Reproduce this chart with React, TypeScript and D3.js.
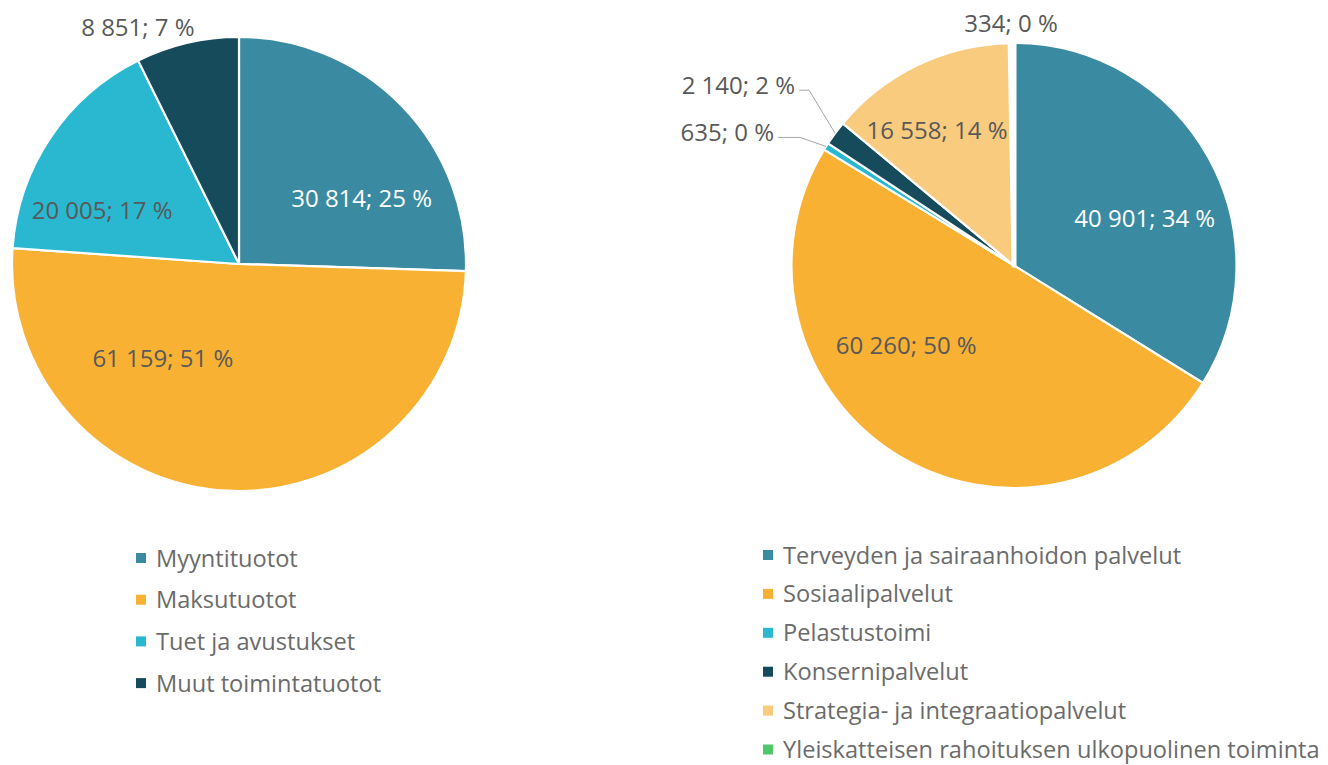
import React from 'react';
import * as d3 from 'd3';

// ---------- DATA ----------
const leftCategories = ['Myyntituotot', 'Maksutuotot', 'Tuet ja avustukset', 'Muut toimintatuotot'];
const leftValues = [30814, 61159, 20005, 8851];
const leftPercents = [25, 51, 17, 7];
const leftColors = ['#3a8ba1', '#f8b133', '#29b8cf', '#164b5c'];

const rightCategories = [
  'Terveyden ja sairaanhoidon palvelut',
  'Sosiaalipalvelut',
  'Pelastustoimi',
  'Konsernipalvelut',
  'Strategia- ja integraatiopalvelut',
  'Yleiskatteisen rahoituksen ulkopuolinen toiminta',
];
const rightValues = [40901, 60260, 635, 2140, 16558, 334];
const rightPercents = [34, 50, 0, 2, 14, 0];
const rightColors = ['#3a8ba1', '#f8b133', '#29b8cf', '#164b5c', '#f8cb7f', '#4fc86b'];

// label placement: mode, angle (deg, clockwise from 12 o'clock), radius fraction
type Place =
  | { mode: 'in'; angle: number; rf: number; fill: string }
  | { mode: 'out'; angle: number; rf: number }
  | { mode: 'leader'; elbow: [number, number]; run: number };

const leftPlaces: Place[] = [
  { mode: 'in', angle: 62, rf: 0.612, fill: '#ffffff' },
  { mode: 'in', angle: 219, rf: 0.533, fill: '#595959' },
  { mode: 'in', angle: 291.5, rf: 0.648, fill: '#595959' },
  { mode: 'out', angle: 336.9, rf: 1.135 },
];
const rightPlaces: Place[] = [
  { mode: 'in', angle: 70.1, rf: 0.625, fill: '#ffffff' },
  { mode: 'in', angle: 233.3, rf: 0.604, fill: '#595959' },
  { mode: 'leader', elbow: [-26, -9], run: 22 },
  { mode: 'leader', elbow: [-26, -43], run: 10 },
  { mode: 'in', angle: 330.4, rf: 0.7, fill: '#595959' },
  { mode: 'out', angle: 359.3, rf: 1.09 },
];

const FONT = "'Open Sans', 'Segoe UI', sans-serif";
const fmt = (v: number) => d3.format(',')(v).replace(/,/g, ' ');

function polar(cx: number, cy: number, angleDeg: number, r: number): [number, number] {
  const a = (angleDeg * Math.PI) / 180;
  return [cx + r * Math.sin(a), cy - r * Math.cos(a)];
}

function Pie(props: {
  cx: number; cy: number; r: number;
  values: number[]; percents: number[]; colors: string[]; places: Place[];
}) {
  const { cx, cy, r, values, percents, colors, places } = props;
  const pie = d3.pie<number>().sort(null).value((d) => d);
  const arcs = pie(values);
  const arcGen = d3.arc<d3.PieArcDatum<number>>().innerRadius(0).outerRadius(r);
  const fs = 24;
  return (
    <g>
      <g transform={`translate(${cx},${cy})`}>
        {arcs.map((a, i) => (
          <path key={i} d={arcGen(a) || ''} fill={colors[i]} stroke="#ffffff" strokeWidth={values[i] < 500 ? 5 : 2.2} strokeLinejoin="round" />
        ))}
      </g>
      {arcs.map((a, i) => {
        const p = places[i];
        const label = `${fmt(values[i])}; ${percents[i]} %`;
        if (p.mode === 'leader') {
          const midDeg = (((a.startAngle + a.endAngle) / 2) * 180) / Math.PI;
          const [ex, ey] = polar(cx, cy, midDeg, r);
          const elx = ex + p.elbow[0];
          const ely = ey + p.elbow[1];
          const sx = elx - p.run;
          return (
            <g key={'l' + i}>
              <path d={`M${sx},${ely}L${elx},${ely}L${ex},${ey}`} fill="none" stroke="#a6a6a6" strokeWidth={1} />
              <text x={sx - 4} y={ely - 5} dy="0.36em" textAnchor="end" fontSize={fs} fontFamily={FONT} fill="#595959">{label}</text>
            </g>
          );
        }
        const [lx, ly] = polar(cx, cy, p.angle, r * p.rf);
        return (
          <text key={'l' + i} x={lx} y={ly} dy="0.36em" textAnchor="middle" fontSize={fs} fontFamily={FONT}
            fill={p.mode === 'in' ? p.fill : '#595959'}>{label}</text>
        );
      })}
    </g>
  );
}

function Legend(props: { x: number; y: number; step: number; names: string[]; colors: string[] }) {
  const { x, y, step, names, colors } = props;
  return (
    <g>
      {names.map((n, i) => (
        <g key={i} transform={`translate(${x},${y + i * step})`}>
          <rect x={0} y={-5} width={10} height={10} fill={colors[i]} />
          <text x={20} y={0} dy="0.36em" fontSize={23.6} fontFamily={FONT} fill="#6b6b6b">{n}</text>
        </g>
      ))}
    </g>
  );
}

export default function App() {
  return (
    <svg width={1328} height={765} style={{ position: 'absolute', left: 0, top: 0, background: '#ffffff' }}>
      <Pie cx={239} cy={264} r={227} values={leftValues} percents={leftPercents} colors={leftColors} places={leftPlaces} />
      <Pie cx={1014} cy={265.5} r={222.5} values={rightValues} percents={rightPercents} colors={rightColors} places={rightPlaces} />
      <Legend x={136} y={558} step={41.7} names={leftCategories} colors={leftColors} />
      <Legend x={763} y={555} step={38.9} names={rightCategories} colors={rightColors} />
    </svg>
  );
}
